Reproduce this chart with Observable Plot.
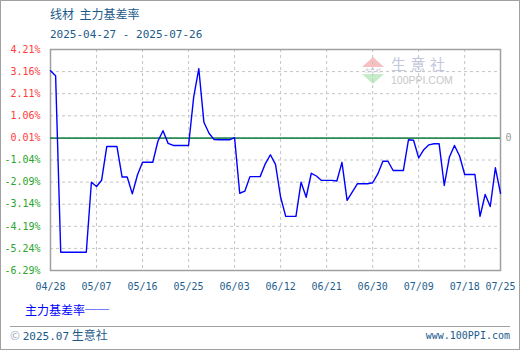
<!DOCTYPE html>
<html>
<head>
<meta charset="utf-8">
<script src="https://cdn.jsdelivr.net/npm/d3@7"></script>
<script src="https://cdn.jsdelivr.net/npm/@observablehq/plot@0.6"></script>
<style>
  html, body { margin: 0; padding: 0; background: #fff; }
  #wrap { position: relative; width: 520px; height: 350px; overflow: hidden; }
  #wrap svg { position: absolute; left: 0; top: 0; }
  .t { position: absolute; white-space: nowrap; line-height: 1; }
  .cjk { font-family: "Noto Sans CJK SC", sans-serif; }
  .mono { font-family: "DejaVu Sans Mono", monospace; }
</style>
</head>
<body>
<div id="wrap"></div>
<script>
const dates = [
  "2025-04-28","2025-04-29","2025-04-30","2025-05-01","2025-05-02","2025-05-03","2025-05-04","2025-05-05",
  "2025-05-06","2025-05-07","2025-05-08","2025-05-09","2025-05-10","2025-05-11","2025-05-12","2025-05-13",
  "2025-05-14","2025-05-15","2025-05-16","2025-05-17","2025-05-18","2025-05-19","2025-05-20","2025-05-21",
  "2025-05-22","2025-05-23","2025-05-24","2025-05-25","2025-05-26","2025-05-27","2025-05-28","2025-05-29",
  "2025-05-30","2025-05-31","2025-06-01","2025-06-02","2025-06-03","2025-06-04","2025-06-05","2025-06-06",
  "2025-06-07","2025-06-08","2025-06-09","2025-06-10","2025-06-11","2025-06-12","2025-06-13","2025-06-14",
  "2025-06-15","2025-06-16","2025-06-17","2025-06-18","2025-06-19","2025-06-20","2025-06-21","2025-06-22",
  "2025-06-23","2025-06-24","2025-06-25","2025-06-26","2025-06-27","2025-06-28","2025-06-29","2025-06-30",
  "2025-07-01","2025-07-02","2025-07-03","2025-07-04","2025-07-05","2025-07-06","2025-07-07","2025-07-08",
  "2025-07-09","2025-07-10","2025-07-11","2025-07-12","2025-07-13","2025-07-14","2025-07-15","2025-07-16",
  "2025-07-17","2025-07-18","2025-07-19","2025-07-20","2025-07-21","2025-07-22","2025-07-23","2025-07-24",
  "2025-07-25"
];
const basisRate = [
  3.20, 2.96, -5.42, -5.42, -5.42, -5.42, -5.42, -5.42,
  -2.10, -2.30, -2.00, -0.40, -0.40, -0.40, -1.85, -1.85,
  -2.65, -1.75, -1.15, -1.15, -1.15, -0.15, 0.35, -0.25,
  -0.35, -0.35, -0.35, -0.35, 1.95, 3.30, 0.75, 0.23,
  -0.07, -0.08, -0.08, -0.08, 0.02, -2.62, -2.52, -1.83,
  -1.83, -1.83, -1.22, -0.79, -1.25, -2.81, -3.72, -3.72,
  -3.72, -2.09, -2.81, -1.67, -1.80, -2.01, -2.01, -2.01,
  -2.04, -1.15, -2.96, -2.57, -2.17, -2.17, -2.17, -2.12,
  -1.70, -1.10, -1.10, -1.54, -1.54, -1.54, -0.08, -0.10,
  -0.94, -0.55, -0.32, -0.27, -0.27, -2.25, -0.91, -0.35,
  -0.85, -1.73, -1.73, -1.73, -3.72, -2.68, -3.25, -1.41,
  -2.62
];
const yTicks = [4.21, 3.16, 2.11, 1.06, 0.01, -1.04, -2.09, -3.14, -4.19, -5.24, -6.29];
const xTickLabels = ["2025-04-28","2025-05-07","2025-05-16","2025-05-25","2025-06-03","2025-06-12","2025-06-21","2025-06-30","2025-07-09","2025-07-18","2025-07-25"];

const parse = d3.utcParse("%Y-%m-%d");
const data = dates.map((d, i) => ({date: parse(d), value: basisRate[i]}));
const xTicks = xTickLabels.map(parse);

const chart = Plot.plot({
  width: 520,
  height: 350,
  marginLeft: 50,
  marginRight: 20,
  marginTop: 49,
  marginBottom: 80,
  style: {background: "transparent", overflow: "visible"},
  x: {type: "utc", domain: [parse("2025-04-28"), parse("2025-07-25")]},
  y: {domain: [-6.29, 4.21]},
  marks: [
    Plot.gridX(xTicks, {stroke: "#c4c4c4", strokeOpacity: 1, strokeDasharray: "3,3"}),
    Plot.gridY(yTicks, {stroke: "#c4c4c4", strokeOpacity: 1, strokeDasharray: "3,3"}),
    Plot.frame({stroke: "#a0a0a0", strokeWidth: 1.5}),
    Plot.ruleY([0], {stroke: "#2e8b57", strokeWidth: 1.6}),
    Plot.line(data, {x: "date", y: "value", stroke: "#0000ff", strokeWidth: 1.4}),
    Plot.axisY(yTicks, {
      tickSize: 0, tickPadding: 10, label: null,
      tickFormat: d => d.toFixed(2) + "%",
      fill: d => d >= 0 ? "#ff3b3b" : "#2aa52a",
      fontFamily: "DejaVu Sans Mono", fontSize: 10
    }),
    Plot.axisX(xTicks, {
      tickSize: 0, tickPadding: 12, label: null,
      tickFormat: d3.utcFormat("%m/%d"),
      fill: "#1f5f8f",
      fontFamily: "DejaVu Sans Mono", fontSize: 10
    }),
    Plot.text(["0"], {y: [0], frameAnchor: "right", dx: 5, textAnchor: "start", text: d => d,
      fill: "#999", fontFamily: "DejaVu Sans Mono", fontSize: 10})
  ]
});

const wrap = document.getElementById("wrap");
wrap.innerHTML = `
  <div style="position:absolute;left:0;top:0;width:518px;height:348px;border:1px solid #a0a0a0;"></div>
  <div style="position:absolute;left:362px;top:57px;width:0;height:0;border-left:11px solid transparent;border-right:11px solid transparent;border-bottom:10px solid #f6c0c0;"></div>
  <div style="position:absolute;left:362px;top:74px;width:0;height:0;border-left:11px solid transparent;border-right:11px solid transparent;border-top:10px solid #c4ecc8;"></div>
  <div class="t" style="left:362px;top:67.5px;width:22px;text-align:center;font-size:5px;color:#b8bcd4;font-family:'DejaVu Sans',sans-serif;letter-spacing:0.5px;">生意社</div>
  <div class="t cjk" style="left:391px;top:56px;font-size:15px;color:#c3c7de;letter-spacing:4.5px;">生意社</div>
  <div class="t" style="left:391px;top:75px;font-size:10.5px;color:#c8c8c8;font-family:'Liberation Sans',sans-serif;">100PPI.COM</div>
  <div class="t cjk" style="left:50px;top:8px;font-size:12px;color:#1c5a8a;">线材&nbsp;&nbsp;主力基差率</div>
  <div class="t mono" style="left:50px;top:29px;font-size:11px;color:#1c5a8a;">2025-04-27 - 2025-07-26</div>
  <div class="t cjk" style="left:25px;top:304px;font-size:12px;color:#0000ff;">主力基差率──</div>
  <div style="position:absolute;left:10px;top:326px;width:500px;height:1px;background:#a0a0a0;"></div>
  <div class="t cjk" style="left:10px;top:329px;font-size:12px;color:#1c5a8a;"><span style="color:#9ab;">©</span> <span class="mono" style="font-size:11px;">2025.07</span> 生意社</div>
  <div class="t mono" style="right:10px;top:331px;font-size:10px;color:#1c5a8a;">www.100PPI.com</div>
`;
wrap.appendChild(chart);
</script>
</body>
</html>
